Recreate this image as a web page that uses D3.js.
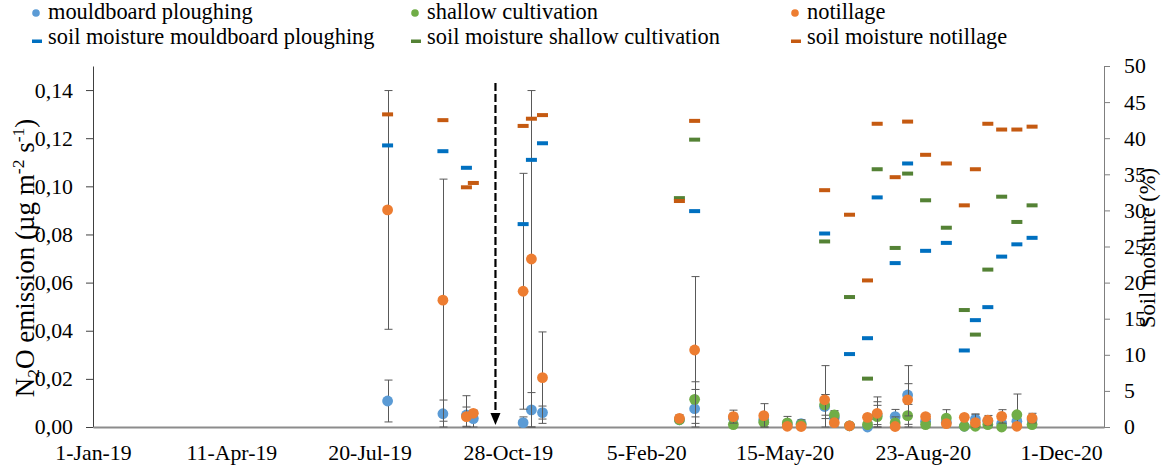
<!DOCTYPE html>
<html>
<head>
<meta charset="utf-8">
<script src="https://cdn.jsdelivr.net/npm/d3@7"></script>
<style>
  html, body { margin: 0; padding: 0; background: #fff; }
  svg { display: block; }
</style>
</head>
<body>
<svg id="chart" width="1166" height="468" font-family="Liberation Serif"></svg>
<script>
// Sampling dates
const dates = [
  "2019-08-02","2019-09-11","2019-09-28","2019-10-03","2019-11-08","2019-11-14","2019-11-22",
  "2020-02-29","2020-03-11","2020-04-08","2020-04-30","2020-05-17","2020-05-27","2020-06-13",
  "2020-06-20","2020-07-01","2020-07-14","2020-07-21","2020-08-03","2020-08-12","2020-08-25",
  "2020-09-09","2020-09-22","2020-09-30","2020-10-09","2020-10-19","2020-10-30","2020-11-10"
];

// N2O emission (µg m-2 s-1) per treatment
const mpN2O = [0.0108,0.0055,0.0050,0.0035,0.0018,0.0071,0.0060,
  0.0030,0.0076,0.0037,0.0030,0.0010,0.0014,0.0085,
  0.0039,0.0005,0.0000,0.0050,0.0043,0.0133,0.0024,
  0.0020,0.0003,0.0033,0.0024,0.0014,0.0024,0.0030];
const scN2O = [null,null,null,null,null,null,null,
  0.0030,0.0115,0.0010,0.0020,0.0017,0.0010,0.0092,
  0.0050,0.0005,0.0010,0.0043,0.0017,0.0047,0.0010,
  0.0037,0.0003,0.0003,0.0010,0.0000,0.0051,0.0010];
const ntN2O = [0.0902,0.0527,0.0043,0.0057,0.0564,0.0698,0.0205,
  0.0036,0.0320,0.0043,0.0047,0.0003,0.0002,0.0113,
  0.0018,0.0005,0.0040,0.0057,0.0002,0.0113,0.0043,
  0.0014,0.0040,0.0018,0.0028,0.0044,0.0003,0.0037];

// Error bar half-widths
const mpErr = [0.0087,0.0057,0.0080,0.0035,0.0024,0.0072,0.0027,
  0.0010,0.0080,0.0020,0.0020,0.0010,0.0010,0.0050,
  0.0020,0.0005,0.0020,0.0040,0.0030,0.0122,0.0010,
  0.0010,0.0005,0.0020,0.0010,0.0010,0.0010,0.0010];
const scErr = [null,null,null,null,null,null,null,
  0.0010,0.0073,0.0010,0.0020,0.0027,0.0020,0.0043,
  0.0018,0.0005,0.0022,0.0062,0.0025,0.0047,0.0010,
  0.0035,0.0005,0.0010,0.0010,0.0005,0.0086,0.0010];
const ntErr = [0.0496,0.0503,0.0040,0.0010,0.0490,0.0700,0.0190,
  0.0015,0.0305,0.0027,0.0050,0.0005,0.0005,0.0142,
  0.0015,0.0005,0.0010,0.0068,0.0005,0.0067,0.0010,
  0.0010,0.0010,0.0036,0.0020,0.0028,0.0005,0.0020];

// Soil moisture (%) per treatment
const mpSM = [39.0,38.2,35.9,null,28.1,37.0,39.3,
  null,29.9,null,null,null,null,26.8,
  null,10.1,12.3,31.8,22.7,36.5,24.4,
  25.5,10.6,14.8,16.6,23.6,25.3,26.2];
const scSM = [null,null,null,null,null,null,null,
  31.7,39.8,null,null,null,null,25.7,
  null,18.0,6.7,35.7,24.8,35.1,31.4,
  27.6,16.2,12.8,21.8,31.9,28.4,30.7];
const ntSM = [43.3,42.5,33.2,33.8,41.7,42.7,43.2,
  31.3,42.4,null,null,null,null,32.8,
  null,29.4,20.3,42.0,34.6,42.3,37.7,
  36.5,30.7,35.7,42.0,41.2,41.2,41.6];

// Tillage date marker
const tillageDate = "2019-10-19";

// Axis ticks
const xTickDates = ["2019-01-01","2019-04-11","2019-07-20","2019-10-28","2020-02-05","2020-05-15","2020-08-23","2020-12-01"];
const leftTicks = [0,0.02,0.04,0.06,0.08,0.10,0.12,0.14];
const rightTicks = [0,5,10,15,20,25,30,35,40,45,50];

const parse = d3.utcParse("%Y-%m-%d");
const svg = d3.select("#chart");
const FONT = "Liberation Serif";
const FS = 21.8;

const pLeft = 93, pRight = 1104, pTop = 66, pBottom = 427;
const x = d3.scaleUtc().domain([parse("2019-01-01"), parse("2021-01-01")]).range([pLeft, pRight]);
const yL = d3.scaleLinear().domain([0, 0.15]).range([pBottom, pTop]);
const yR = d3.scaleLinear().domain([0, 50]).range([pBottom, pTop]);

// Axes
const fmtL = d => d3.format(".2f")(d).replace(".", ",");
const gL = svg.append("g").attr("transform", `translate(${pLeft},0)`)
  .call(d3.axisLeft(yL).tickValues(leftTicks).tickSize(7).tickSizeOuter(0).tickPadding(13).tickFormat(fmtL));
const gR = svg.append("g").attr("transform", `translate(${pRight},0)`)
  .call(d3.axisRight(yR).tickValues(rightTicks).tickSize(6).tickSizeOuter(0).tickPadding(14));
[gL, gR].forEach(g => {
  g.attr("font-family", FONT).attr("font-size", FS);
  g.selectAll("text").attr("fill", "#000");
  g.selectAll("line").attr("stroke", "#7f7f7f");
  g.select(".domain").attr("stroke", "#7f7f7f");
});
gL.select(".domain").attr("stroke", "#404040");
gL.selectAll("line").attr("stroke", "#404040");

const gB = svg.append("g").attr("transform", `translate(0,${pBottom})`)
  .call(d3.axisBottom(x).tickValues(xTickDates.map(parse)).tickSize(0).tickPadding(18)
    .tickFormat(d3.utcFormat("%-d-%b-%y")));
gB.attr("font-family", FONT).attr("font-size", FS);
gB.selectAll("text").attr("fill", "#000");
gB.select(".domain").attr("stroke", "#8c8c8c").attr("stroke-width", 2);

// Axis titles
const TFS = 27;
const tL = svg.append("text")
  .attr("transform", `translate(34,258) rotate(-90)`)
  .attr("text-anchor", "middle").attr("font-family", FONT).attr("font-size", TFS);
tL.append("tspan").text("N");
tL.append("tspan").attr("font-size", TFS * 0.65).attr("dy", 5).text("2");
tL.append("tspan").attr("dy", -5).text("O emission (µg m");
tL.append("tspan").attr("font-size", TFS * 0.65).attr("dy", -10).text("-2");
tL.append("tspan").attr("dy", 10).text(" s");
tL.append("tspan").attr("font-size", TFS * 0.65).attr("dy", -10).text("-1");
tL.append("tspan").attr("dy", 10).text(")");

svg.append("text")
  .attr("transform", `translate(1155,248) rotate(-90)`)
  .attr("text-anchor", "middle").attr("font-family", FONT).attr("font-size", 22.5)
  .text("Soil moisture (%)");

// Series
const series = [
  { name: "mouldboard ploughing", vals: mpN2O, err: mpErr, color: "#5B9BD5" },
  { name: "shallow cultivation", vals: scN2O, err: scErr, color: "#70AD47" },
  { name: "notillage", vals: ntN2O, err: ntErr, color: "#ED7D31" }
];
const smSeries = [
  { name: "soil moisture mouldboard ploughing", vals: mpSM, color: "#0070C0" },
  { name: "soil moisture shallow cultivation", vals: scSM, color: "#548235" },
  { name: "soil moisture notillage", vals: ntSM, color: "#C55A11" }
];

const plot = svg.append("g");
series.forEach(s => {
  const rows = dates.map((d, i) => ({ d: parse(d), v: s.vals[i], e: s.err[i] }))
    .filter(r => r.v !== null);
  const eg = plot.append("g").attr("stroke", "#595959").attr("stroke-width", 1);
  rows.forEach(r => {
    const cx = Math.round(x(r.d)) + 0.5;
    const y1 = yL(r.v + r.e), y0 = Math.min(pBottom, yL(Math.max(0, r.v - r.e)));
    eg.append("line").attr("x1", cx).attr("x2", cx).attr("y1", y1).attr("y2", y0);
    eg.append("line").attr("x1", cx - 4).attr("x2", cx + 4).attr("y1", y1).attr("y2", y1);
    eg.append("line").attr("x1", cx - 4).attr("x2", cx + 4).attr("y1", y0).attr("y2", y0);
  });
  plot.append("g").selectAll("circle").data(rows).join("circle")
    .attr("cx", r => x(r.d)).attr("cy", r => yL(r.v)).attr("r", 5.4)
    .attr("fill", s.color);
});
smSeries.forEach(s => {
  const rows = dates.map((d, i) => ({ d: parse(d), v: s.vals[i] })).filter(r => r.v !== null);
  plot.append("g").selectAll("rect").data(rows).join("rect")
    .attr("x", r => x(r.d) - 5.5).attr("y", r => yR(r.v) - 2).attr("width", 11).attr("height", 4)
    .attr("fill", s.color);
});

// Tillage arrow
const ax = x(parse(tillageDate));
svg.append("line").attr("x1", ax).attr("x2", ax).attr("y1", 83).attr("y2", 414)
  .attr("stroke", "#000").attr("stroke-width", 2.2).attr("stroke-dasharray", "8,3");
svg.append("path")
  .attr("d", `M${ax - 5},413 L${ax + 5},413 L${ax},425 Z`).attr("fill", "#000");

// Legend
const legCols = [48, 427, 807];
const lg = svg.append("g").attr("font-family", FONT).attr("font-size", 22.4);
series.forEach((s, i) => {
  lg.append("circle").attr("cx", legCols[i] - 12).attr("cy", 13).attr("r", 3.8).attr("fill", s.color);
  lg.append("text").attr("x", legCols[i]).attr("y", 19).text(s.name);
});
smSeries.forEach((s, i) => {
  lg.append("rect").attr("x", legCols[i] - 16).attr("y", 39.5).attr("width", 10).attr("height", 3.5).attr("fill", s.color);
  lg.append("text").attr("x", legCols[i]).attr("y", 44).text(s.name);
});
</script>
</body>
</html>
